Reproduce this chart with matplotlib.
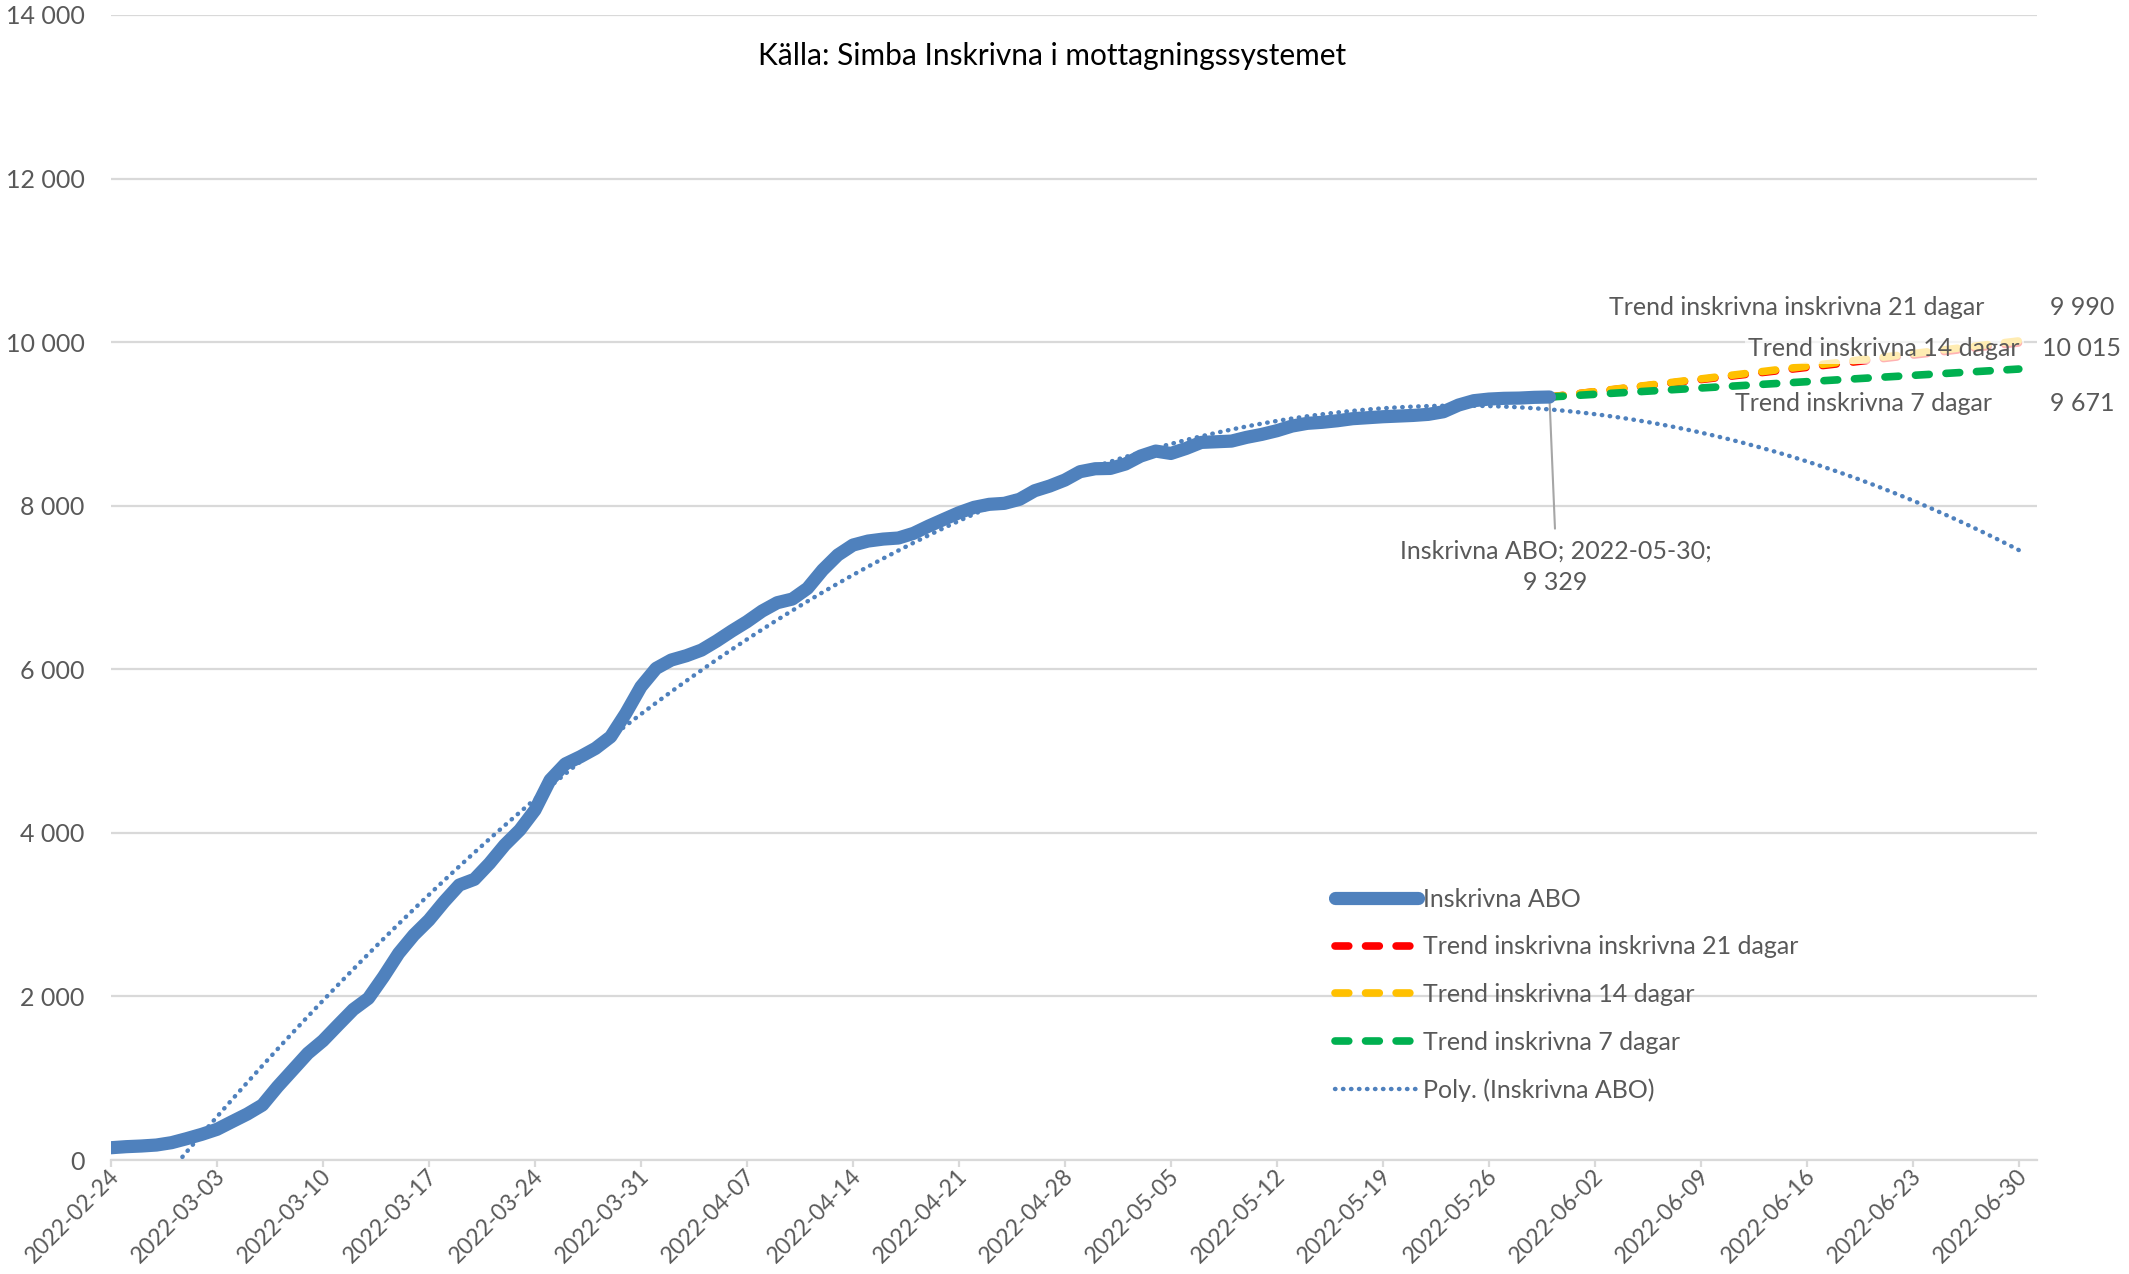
import matplotlib
matplotlib.use('Agg')
import matplotlib.pyplot as plt
import matplotlib.dates as mdates
import matplotlib.transforms as mtrans
import numpy as np
import pandas as pd

plt.rcParams['font.family'] = ['Lato', 'DejaVu Sans']

# ---------------- data ----------------
start_date = '2022-02-24'
inskrivna_abo = [
    150, 163, 171, 183, 212, 261, 314, 375, 469, 562,
    672, 896, 1100, 1304, 1459, 1651, 1840, 1977, 2241, 2527,
    2751, 2934, 3158, 3362, 3432, 3627, 3851, 4035, 4279, 4646,
    4842, 4931, 5033, 5175, 5461, 5787, 6011, 6113, 6166, 6235,
    6346, 6468, 6582, 6712, 6814, 6859, 6990, 7214, 7397, 7519,
    7568, 7592, 7605, 7662, 7751, 7833, 7914, 7980, 8017, 8029,
    8078, 8183, 8241, 8314, 8416, 8452, 8456, 8510, 8607, 8668,
    8639, 8700, 8774, 8782, 8790, 8836, 8872, 8917, 8974, 9007,
    9020, 9039, 9064, 9076, 9088, 9096, 9104, 9117, 9149, 9231,
    9284, 9304, 9313, 9316, 9325, 9329,
]
trend_dates = ['2022-05-30', '2022-06-30']
trend_21 = [9329, 9990]
trend_14 = [9329, 10015]
trend_7 = [9329, 9671]
poly_end = '2022-06-30'
xtick_start, xtick_end = '2022-02-24', '2022-06-30'
yticks = [0, 2000, 4000, 6000, 8000, 10000, 12000, 14000]

title = 'Källa: Simba Inskrivna i mottagningssystemet'
labels = ['Inskrivna ABO', 'Trend inskrivna inskrivna 21 dagar',
          'Trend inskrivna 14 dagar', 'Trend inskrivna 7 dagar',
          'Poly. (Inskrivna ABO)']

# ---------------- styles ----------------
TXT = '#595959'
GRID = '#d9d9d9'
BLUE = '#4f81bd'
RED = '#ff0000'
ORANGE = '#ffc000'
GREEN = '#00b050'
FS = 18

def fmt(v):
    return f"{v:,}".replace(",", " ")

W, H = 2129, 1274
fig = plt.figure(figsize=(W / 100, H / 100), dpi=100)
ax = fig.add_axes([111 / W, 1 - 1160 / H, (2037 - 111) / W, (1160 - 15) / H])

dates = pd.date_range(start_date, periods=len(inskrivna_abo), freq='D')
xd = mdates.date2num(dates)
x0 = mdates.date2num(pd.Timestamp(start_date))
tx = mdates.date2num(pd.to_datetime(trend_dates))

# polynomial (order 2) trendline of the main series
coef = np.polyfit(xd - x0, inskrivna_abo, 2)
px = np.linspace(0, mdates.date2num(pd.Timestamp(poly_end)) - x0, 600)
py = np.polyval(coef, px)

dash = (0, (1.8, 2.2))
l_red, = ax.plot(tx, trend_21, color=RED, lw=5.5, linestyle=dash,
                 dash_capstyle='round', zorder=3)
l_or, = ax.plot(tx, trend_14, color=ORANGE, lw=5.5, linestyle=dash,
                dash_capstyle='round', zorder=3.1)
l_gr, = ax.plot(tx, trend_7, color=GREEN, lw=5.5, linestyle=dash,
                dash_capstyle='round', zorder=3.2)
l_blue, = ax.plot(xd, inskrivna_abo, color=BLUE, lw=9.5,
                  solid_capstyle='round', solid_joinstyle='round', zorder=4)
l_poly, = ax.plot(px + x0, py, color=BLUE, lw=3.2, linestyle=(0, (0.1, 1.7)),
                  dash_capstyle='round', zorder=5)

# axes
ax.set_ylim(0, 14000)
ax.set_xlim(x0, x0 + 127.2)
ax.set_yticks(yticks)
ax.set_yticklabels([fmt(v) for v in yticks])
xt = pd.date_range(xtick_start, xtick_end, freq='7D')
ax.set_xticks(mdates.date2num(xt))
ax.set_xticklabels([d.strftime('%Y-%m-%d') for d in xt])
for s in ['top', 'right', 'left']:
    ax.spines[s].set_visible(False)
ax.spines['bottom'].set_color(GRID)
ax.spines['bottom'].set_linewidth(1.6)
ax.grid(axis='y', color=GRID, lw=1.6, zorder=0)
ax.set_axisbelow(True)
ax.tick_params(axis='y', length=0, pad=19, labelsize=FS, labelcolor=TXT)
ax.tick_params(axis='x', length=5, width=1.6, color=GRID, direction='out',
               pad=4, labelsize=16.5, labelcolor=TXT)
off = mtrans.ScaledTranslation(5 / 100, 0, fig.dpi_scale_trans)
for lab in ax.get_xticklabels():
    lab.set_rotation(45)
    lab.set_ha('right')
    lab.set_va('center')
    lab.set_rotation_mode('anchor')
    lab.set_transform(lab.get_transform() + off)

# title
fig.text(1052 / W, 1 - 56 / H, title, ha='center', va='center',
         fontsize=21.5, color='black')

# annotation of last point
ax.annotate(f"{labels[0]}; {dates[-1].strftime('%Y-%m-%d')};\n{fmt(inskrivna_abo[-1])}",
            xy=(xd[-1], inskrivna_abo[-1]), xytext=(6, -170),
            textcoords='offset pixels', ha='center', va='center',
            multialignment='center', fontsize=FS, color=TXT, linespacing=1.45,
            arrowprops=dict(arrowstyle='-', color='#a6a6a6', lw=1.5,
                            shrinkA=6, shrinkB=0, relpos=(0.5, 1.0)),
            zorder=2, annotation_clip=False)

# trend end labels
ends = [(trend_21, labels[1], (-34, 35), None),
        (trend_14, labels[2], (1, -8), dict(boxstyle='square,pad=0.15', fc='white', ec='none', alpha=0.7)),
        (trend_7, labels[3], (-27, -34), None)]
for series, name, (dx, dy), box in ends:
    ax.annotate(name, xy=(tx[-1], series[-1]), xytext=(dx, dy),
                textcoords='offset pixels', ha='right', va='center',
                fontsize=FS, color=TXT, bbox=box, zorder=6, annotation_clip=False)
    ax.annotate(fmt(series[-1]), xy=(tx[-1], series[-1]), xytext=(63, dy),
                textcoords='offset pixels', ha='center', va='center',
                fontsize=FS, color=TXT, zorder=6, annotation_clip=False)

# legend
leg = ax.legend([l_blue, l_red, l_or, l_gr, l_poly], labels,
                loc='upper left', bbox_to_anchor=(1335 / W, 1 - 888 / H),
                bbox_transform=fig.transFigure, frameon=False, fontsize=FS,
                handlelength=3.3, handletextpad=0.2, labelspacing=0.98,
                borderpad=0, borderaxespad=0)
for t in leg.get_texts():
    t.set_color(TXT)

fig.savefig('out.png', dpi=100, facecolor='white')
